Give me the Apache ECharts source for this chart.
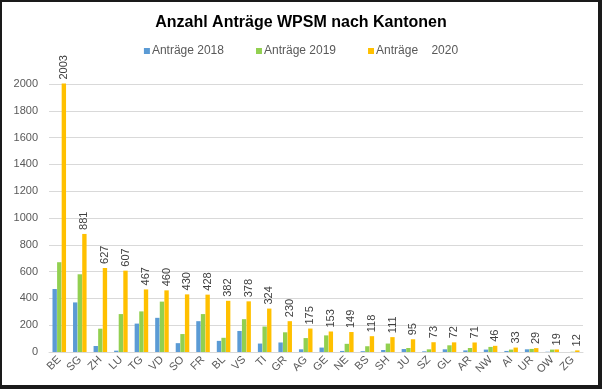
<!DOCTYPE html>
<html><head><meta charset="utf-8">
<script src="https://cdn.jsdelivr.net/npm/echarts@6/dist/echarts.min.js"></script>
<style>
html,body{margin:0;padding:0;background:#fff;}
#wrap{width:602px;height:389px;box-sizing:border-box;border-style:solid;border-color:#1a1a1a;border-width:2px 4px 4px 2px;position:relative;}
#c{position:absolute;left:-2px;top:-2px;width:602px;height:389px;}
</style></head>
<body><div id="wrap"><div id="c"></div></div>
<script>
const categories = ['BE','SG','ZH','LU','TG','VD','SO','FR','BL','VS','TI','GR','AG','GE','NE','BS','SH','JU','SZ','GL','AR','NW','AI','UR','OW','ZG'];
const values2018 = [470,370,45,10,212,255,66,230,83,157,63,71,20,33,8,6,15,22,5,20,12,18,8,20,2,0];
const values2019 = [670,580,174,283,303,376,134,283,106,245,190,147,104,124,61,43,63,30,20,50,30,38,18,23,18,2];
const values2020 = [2003,881,627,607,467,460,430,428,382,378,324,230,175,153,149,118,111,95,73,72,71,46,33,29,19,12];
const yTicks = [0,200,400,600,800,1000,1200,1400,1600,1800,2000];

const chart = echarts.init(document.getElementById('c'));
const font = 'Liberation Sans, Arial, sans-serif';
chart.setOption({
  animation:false,
  textStyle:{fontFamily:font},
  title:{text:'Anzahl Anträge WPSM nach Kantonen',left:'center',top:10,
    textStyle:{fontFamily:font,fontWeight:'bold',fontSize:16,color:'#000'}},
  legend:{top:40,left:'center',itemWidth:6,itemHeight:6,itemGap:32,icon:'rect',
    textStyle:{fontFamily:font,fontSize:12,color:'#595959',padding:[0,0,0,-3]},
    data:['Anträge 2018','Anträge 2019','Anträge    2020']},
  grid:{left:49,right:19,top:84,bottom:37},
  xAxis:{type:'category',data:categories,
    axisLine:{lineStyle:{color:'#d9d9d9'}},axisTick:{show:false},
    axisLabel:{rotate:45,fontSize:11,color:'#595959',margin:6,interval:0}},
  yAxis:{type:'value',min:yTicks[0],max:yTicks[yTicks.length-1],interval:200,
    axisLine:{show:false},axisTick:{show:false},
    axisLabel:{fontSize:11,color:'#595959',margin:11,formatter:v=>String(v)},
    splitLine:{lineStyle:{color:'#d9d9d9'}}},
  series:[
    {name:'Anträge 2018',type:'bar',data:values2018,itemStyle:{color:'#5b9bd5'},barGap:'5%',barCategoryGap:'34%',clip:false},
    {name:'Anträge 2019',type:'bar',data:values2019,itemStyle:{color:'#92d050'},clip:false},
    {name:'Anträge    2020',type:'bar',data:values2020,itemStyle:{color:'#ffc000'},clip:false,
      label:{show:true,position:'top',rotate:90,align:'left',verticalAlign:'middle',distance:4,
        fontSize:11,color:'#404040',fontFamily:font}}
  ]
});
</script></body></html>
